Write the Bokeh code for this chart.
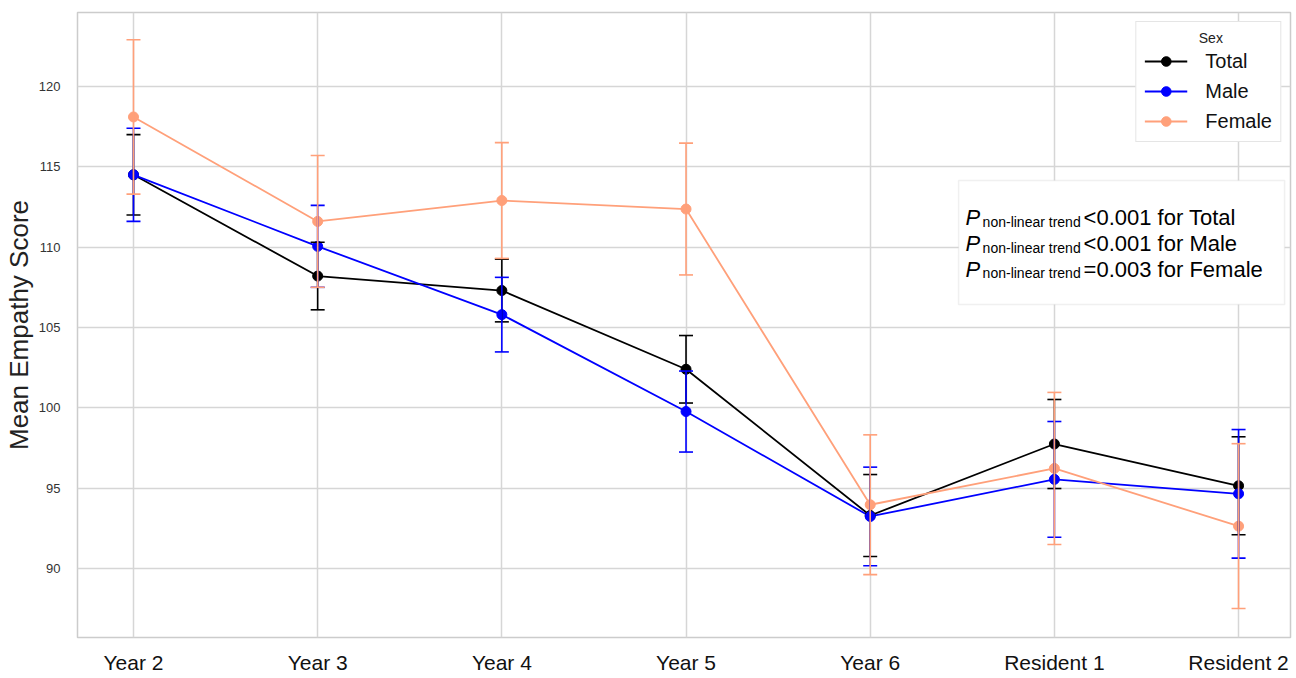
from bokeh.plotting import figure
from bokeh.models import (ColumnDataSource, Whisker, TeeHead, FixedTicker, Legend,
                          LegendItem, BoxAnnotation, Label, Range1d)
from bokeh.embed import file_html
from bokeh.resources import INLINE

categories = ["Year 2", "Year 3", "Year 4", "Year 5", "Year 6", "Resident 1", "Resident 2"]
series_names = ["Total", "Male", "Female"]
total_mean = [114.5, 108.2, 107.3, 102.4, 93.3, 97.75, 95.15]
total_err = [2.5, 2.1, 1.95, 2.1, 2.55, 2.77, 3.05]
male_mean = [114.5, 110.05, 105.8, 99.77, 93.24, 95.55, 94.65]
male_err = [2.9, 2.55, 2.32, 2.52, 3.07, 3.6, 4.0]
female_mean = [118.1, 111.6, 112.9, 112.37, 93.97, 96.23, 92.64]
female_err = [4.8, 4.1, 3.6, 4.1, 4.35, 4.73, 5.13]
y_ticks = [90, 95, 100, 105, 110, 115, 120]
annot_values = ["<0.001 for Total", "<0.001 for Male", "=0.003 for Female"]

colors = ["#000000", "#0000ff", "#ffa07a"]
means = [total_mean, male_mean, female_mean]
errs = [total_err, male_err, female_err]

FONT = "Liberation Sans"

p = figure(width=1292, height=676, output_backend="svg", toolbar_location=None,
           x_range=Range1d(-0.304, 6.282), y_range=Range1d(85.71, 124.6),
           min_border_left=77, min_border_right=2, min_border_top=12, min_border_bottom=39,
           background_fill_color="white", border_fill_color="white")

p.outline_line_color = "#cccccc"
p.outline_line_width = 1.5

xs = list(range(len(categories)))

# grid
p.xgrid.ticker = FixedTicker(ticks=xs)
p.ygrid.ticker = FixedTicker(ticks=y_ticks)
for g in (p.xgrid, p.ygrid):
    g.grid_line_color = "#d6d6d6"
    g.grid_line_width = 1.5

# axes
p.xaxis.ticker = FixedTicker(ticks=xs)
p.xaxis.major_label_overrides = {i: c for i, c in enumerate(categories)}
p.xaxis.major_label_text_font = FONT
p.xaxis.major_label_text_font_size = "21px"
p.xaxis.major_label_text_color = "#111111"
p.xaxis.major_label_standoff = 7

p.yaxis.ticker = FixedTicker(ticks=y_ticks)
p.yaxis.major_label_text_font = FONT
p.yaxis.major_label_text_font_size = "13px"
p.yaxis.major_label_text_color = "#333333"
p.yaxis.major_label_standoff = 11
p.yaxis.axis_label = "Mean Empathy Score"
p.yaxis.axis_label_text_font = FONT
p.yaxis.axis_label_text_font_size = "26px"
p.yaxis.axis_label_text_font_style = "normal"
p.yaxis.axis_label_text_color = "#222222"
p.yaxis.axis_label_standoff = 2

for ax in (p.xaxis, p.yaxis):
    ax.axis_line_color = None
    ax.major_tick_line_color = None
    ax.minor_tick_line_color = None

sources = []
for m, e in zip(means, errs):
    sources.append(ColumnDataSource(dict(
        x=xs, y=m,
        upper=[a + b for a, b in zip(m, e)],
        lower=[a - b for a, b in zip(m, e)])))

# error bars
for src, col in zip(sources, colors):
    w = Whisker(source=src, base="x", upper="upper", lower="lower", dimension="height",
                line_color=col, line_width=1.6,
                upper_head=TeeHead(size=14, line_color=col, line_width=1.6),
                lower_head=TeeHead(size=14, line_color=col, line_width=1.6),
                level="glyph")
    p.add_layout(w)

line_rs = []
for src, col in zip(sources, colors):
    line_rs.append(p.line("x", "y", source=src, line_color=col, line_width=1.8))
dot_rs = []
for src, col in zip(sources, colors):
    dot_rs.append(p.scatter("x", "y", source=src, size=10, fill_color=col, line_color=col))
items = [LegendItem(label=name, renderers=[lr, dr])
         for name, lr, dr in zip(series_names, line_rs, dot_rs)]

legend = Legend(items=items, location="top_right", title="\u00a0" * 14 + "Sex",
                title_text_font=FONT, title_text_font_size="14px", title_text_font_style="normal",
                title_text_color="#222222", title_standoff=3,
                label_text_font=FONT, label_text_font_size="20px", label_text_color="#111111",
                glyph_width=43, glyph_height=24, label_height=24, spacing=6,
                label_standoff=18, padding=8, margin=9,
                border_line_color="#cccccc", border_line_width=1.2,
                background_fill_color="white", background_fill_alpha=1.0)
p.add_layout(legend)

# annotation box
box = BoxAnnotation(left=4.48, right=6.25, top=114.15, bottom=106.43,
                    fill_color="white", fill_alpha=1.0,
                    line_color="#cccccc", line_width=1.5)
p.add_layout(box)

x_anchor = 4.518
baselines = [111.85, 110.23, 108.63]
for yb, txt in zip(baselines, annot_values):
    p.add_layout(Label(x=x_anchor, y=yb, text="P", text_font=FONT, text_font_size="22px",
                       text_font_style="italic", text_color="#000000",
                       text_baseline="alphabetic", level="overlay"))
    p.add_layout(Label(x=x_anchor, y=yb - 0.26, x_offset=17, text="non-linear trend",
                       text_font=FONT, text_font_size="14px", text_color="#000000",
                       text_baseline="alphabetic", level="overlay"))
    p.add_layout(Label(x=x_anchor, y=yb, x_offset=118, text=txt, text_font=FONT,
                       text_font_size="22px", text_color="#000000",
                       text_baseline="alphabetic", level="overlay"))

open("out.html", "w").write(file_html(p, INLINE))
